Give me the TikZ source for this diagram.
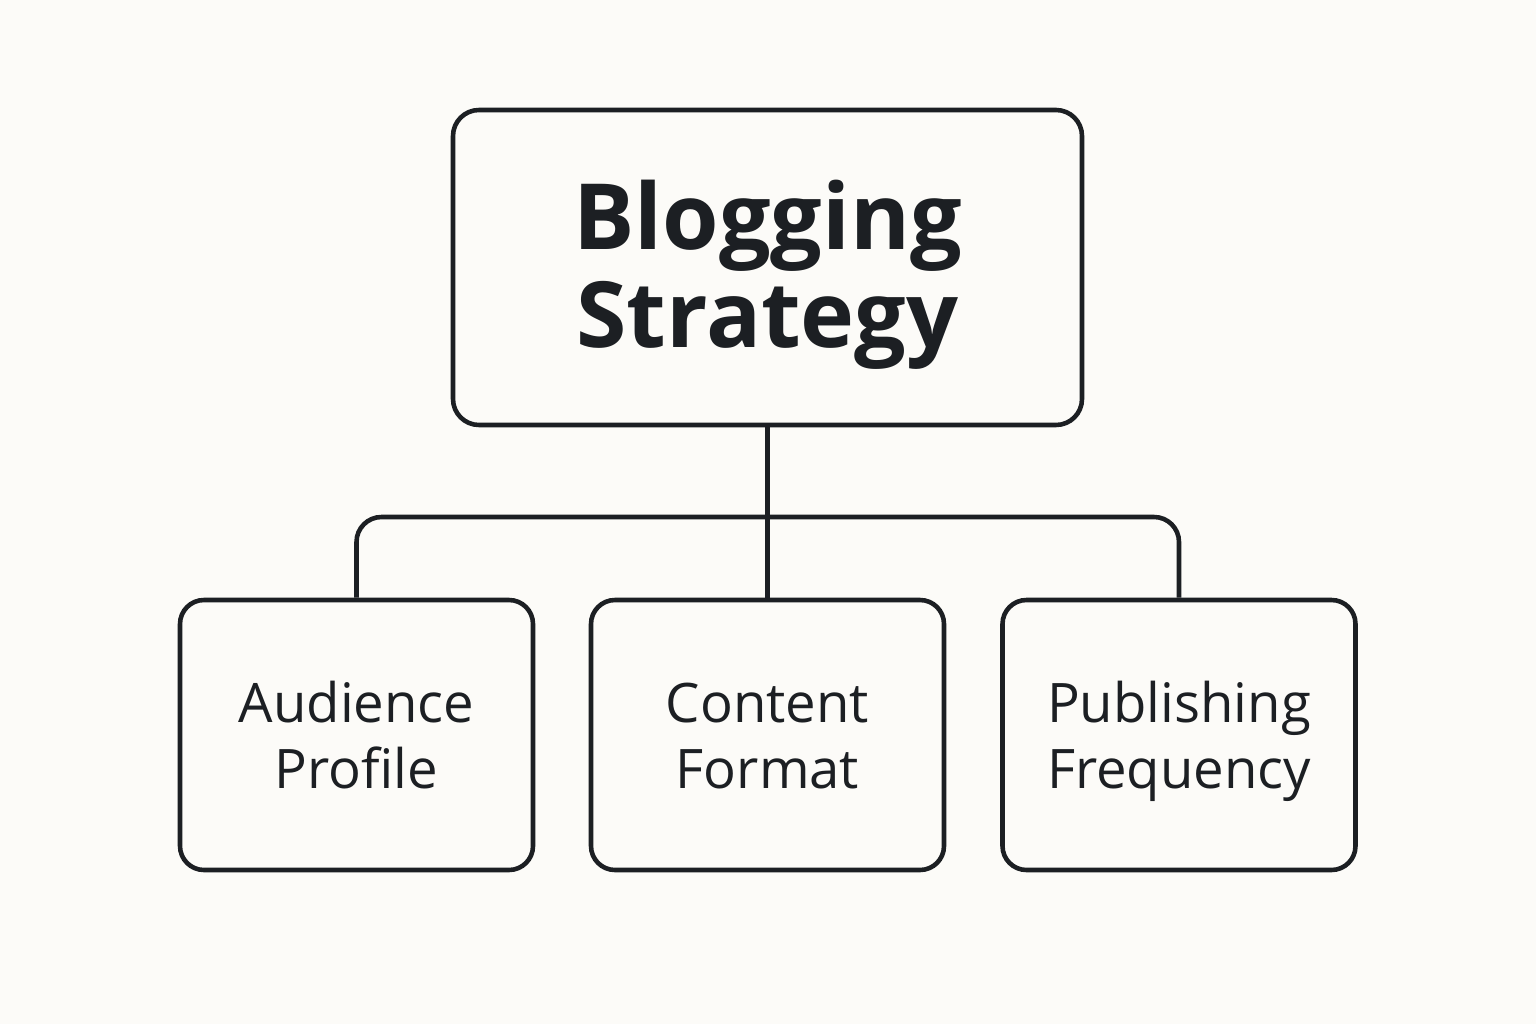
\documentclass[tikz,border=0pt]{standalone}
\usepackage{fontspec}
\setmainfont{Open Sans}
\definecolor{paper}{HTML}{FCFBF8}
\definecolor{ink}{HTML}{1C1F23}
\newcommand{\topstrut}{\rule{0pt}{17.3pt}}
\begin{document}
\begin{tikzpicture}[line width=1.3pt, draw=ink, text=ink,
    rootbox/.style={draw=ink, rounded corners=0.26cm, minimum width=6.29cm,
        minimum height=3.15cm, align=center, font=\fontsize{26}{28}\selectfont\bfseries},
    leafbox/.style={draw=ink, rounded corners=0.24cm, minimum width=3.53cm,
        minimum height=2.70cm, align=center, font=\fontsize{15.5}{19}\selectfont}]

    % Background and bounding box.
    \fill[paper] (0, 0) rectangle (15.36, 10.24);
    \useasboundingbox (0, 0) rectangle (15.36, 10.24);

    % Coordinates for the centers of the boxes.
    \coordinate (R) at ( 7.675, 7.565);
    \coordinate (L1) at ( 3.565, 2.89);
    \coordinate (L2) at ( 7.675, 2.89);
    \coordinate (L3) at (11.79, 2.89);

    % Coordinate for the horizontal bar.
    \coordinate (bar) at (7.675, 5.07);

    % Boxes.
    \node[rootbox] (root) at (R) {\rule{0pt}{24pt}Blogging\\Strategy};
    \node[leafbox] (audience) at (L1) {\topstrut Audience\\Profile\strut};
    \node[leafbox] (content) at (L2) {\topstrut Content\\Format\strut};
    \node[leafbox] (freq) at (L3) {\topstrut Publishing\\Frequency\strut};

    % Connectors.
    \draw[ink] (root.south) -- (content.north);
    \draw[ink, rounded corners=0.25cm] (audience.north) |- (bar) -| (freq.north);
\end{tikzpicture}
\end{document}
